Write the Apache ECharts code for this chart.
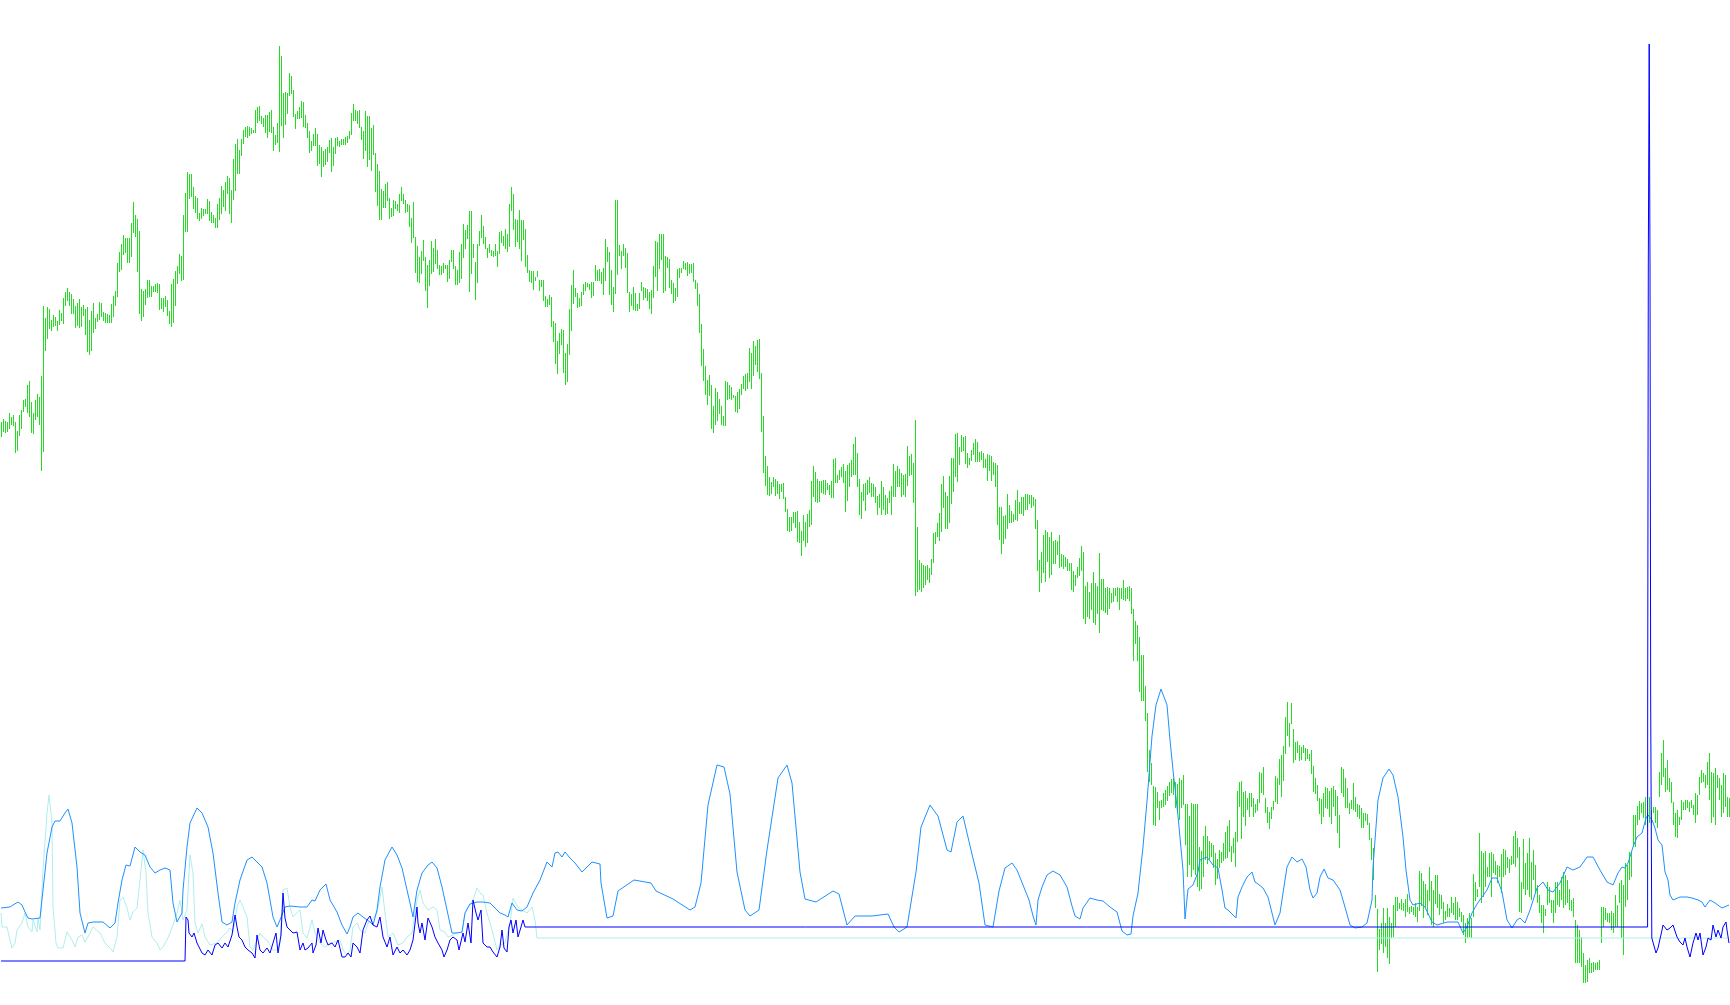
<!DOCTYPE html>
<html>
<head>
<meta charset="utf-8">
<script src="https://cdn.jsdelivr.net/npm/echarts/dist/echarts.min.js"></script>
<style>
html,body{margin:0;padding:0;background:#ffffff;}
#chart{width:1730px;height:1005px;}
</style>
</head>
<body>
<div id="chart"></div>
<script>
// Price bars: one entry per bar (bar index 0..864), high and low values
const barHighs = [
578,581,579,578,587,583,585,578,569,585,
590,600,601,615,619,598,587,600,606,603,
624,694,682,693,691,680,685,683,679,690,
687,702,708,712,708,706,701,694,697,701,
693,695,691,693,680,689,697,682,686,698,
697,688,687,686,685,696,704,709,737,748,
756,765,762,762,762,777,798,785,781,769,
711,709,711,720,720,714,714,716,717,716,
702,702,704,700,689,716,721,729,734,746,
744,785,807,828,826,826,813,804,802,787,
792,791,791,801,799,788,785,782,796,802,
814,810,818,824,822,810,841,856,861,850,
861,870,873,874,873,872,870,890,893,894,
884,882,885,885,888,890,873,865,877,954,
944,907,908,907,927,924,910,886,889,893,
899,898,885,877,869,859,866,872,866,855,
853,849,851,853,860,862,853,862,863,859,
861,861,863,864,869,887,896,890,889,890,
873,869,889,884,884,872,875,847,836,829,
811,809,816,818,802,792,800,799,796,806,
813,806,800,796,795,782,798,763,754,743,
749,760,743,735,740,759,752,761,750,735,
734,737,735,735,740,750,750,734,730,748,
756,776,770,775,789,789,756,738,756,769,
785,774,763,752,756,750,749,756,749,768,
769,764,771,766,796,813,806,781,780,790,
780,780,771,745,730,729,729,723,729,720,
720,720,704,701,705,703,679,677,659,667,
671,670,647,656,691,715,730,712,707,702,
708,716,718,717,716,718,718,735,730,731,
728,732,761,753,748,730,713,800,800,755,
749,756,752,747,708,706,713,707,696,707,
718,713,712,711,708,710,734,759,758,766,
766,766,744,743,741,720,717,712,731,732,
732,739,737,738,736,736,737,720,717,706,
676,651,634,620,625,615,594,612,608,601,
594,584,619,618,615,613,605,604,608,611,
616,624,626,627,652,647,659,654,660,661,
627,584,544,534,523,518,523,521,519,516,
516,517,503,491,483,483,488,488,489,478,
469,485,478,486,490,519,534,528,521,519,
519,520,520,517,515,519,541,542,525,530,
533,536,529,535,537,540,556,563,547,521,
508,516,517,520,523,517,516,513,504,506,
519,513,505,502,509,514,536,529,534,531,
527,525,526,554,544,546,537,580,473,440,
437,435,434,435,432,441,467,468,477,487,
516,524,508,504,524,542,542,566,567,553,
565,563,564,547,542,550,557,561,558,548,
549,547,541,546,545,544,538,537,535,493,
493,484,485,506,495,489,486,500,510,498,
503,503,506,506,505,505,503,501,480,440,
448,465,470,468,463,468,459,460,459,465,
446,445,443,441,437,437,429,425,433,442,
454,448,414,418,408,417,428,417,414,447,
421,421,412,413,412,407,412,412,413,412,
412,420,412,413,414,412,391,379,375,363,
345,345,314,287,250,237,214,213,208,199,
200,207,210,214,218,221,222,218,216,222,
220,225,196,196,184,197,196,196,196,153,
149,164,174,164,159,157,155,147,141,150,
148,157,168,174,180,154,162,168,209,218,
219,208,209,202,207,207,202,196,201,228,
227,233,202,193,188,193,199,224,222,241,
245,254,283,298,277,297,271,258,259,255,
253,255,252,251,246,250,234,222,215,202,
201,207,213,212,209,212,214,210,204,185,
233,231,222,212,197,200,217,203,196,195,
192,187,187,186,177,162,152,105,91,71,
77,92,77,92,83,77,95,103,103,97,
101,97,101,106,93,94,93,97,93,129,
127,119,116,110,133,119,110,125,125,106,
105,98,89,96,92,103,97,103,98,92,
88,85,77,82,87,82,126,118,111,167,
149,147,149,133,147,148,146,139,135,134,
146,151,150,143,141,144,164,169,162,153,
118,161,137,147,162,138,150,135,115,105,
95,95,91,118,113,100,100,118,118,110,
123,128,125,120,111,100,102,80,75,70,
63,47,35,40,42,37,38,37,38,40,
93,93,92,87,87,89,87,105,95,117,
120,115,137,135,148,148,185,185,194,199,
197,198,203,187,203,190,193,193,190,228,
247,260,232,240,222,218,198,187,190,183,
200,198,200,200,198,200,195,207,205,223,
230,227,225,238,247,228,227,232,225,222,
215,227,225,203,202
];
const barLows = [
563,568,567,568,571,575,574,547,549,564,
571,588,593,587,583,567,566,580,583,575,
529,548,649,661,671,669,673,674,669,675,
679,676,694,699,694,686,686,672,674,672,
673,684,665,648,645,649,667,671,678,680,
683,679,677,677,677,677,683,694,703,728,
730,745,747,737,737,743,767,763,728,686,
679,683,695,702,703,703,708,708,707,690,
691,688,693,684,676,673,677,694,716,726,
719,720,768,768,801,803,791,787,781,779,
781,784,786,786,779,777,777,772,772,780,
786,793,789,806,786,777,800,809,826,826,
844,856,863,862,864,866,867,867,877,879,
876,873,867,862,868,867,849,855,857,848,
874,862,875,886,904,906,883,871,881,881,
882,873,872,862,847,849,854,854,834,836,
823,833,835,838,847,828,834,846,854,853,
855,855,855,857,861,865,879,879,876,872,
860,841,849,833,840,829,845,808,794,780,
780,792,792,799,781,783,784,791,789,787,
799,796,787,788,773,757,762,727,718,717,
726,739,709,692,714,726,728,736,731,725,
725,727,731,718,721,738,731,715,715,717,
721,742,751,761,708,726,742,700,717,754,
762,756,751,742,747,744,743,744,733,746,
757,754,751,748,753,789,770,753,758,751,
739,760,733,727,718,717,710,719,723,709,
713,699,693,693,695,673,658,636,626,646,
655,627,615,618,645,669,696,703,692,693,
694,705,709,713,710,702,704,719,719,719,
716,705,719,738,705,695,688,706,725,744,
731,744,732,707,688,694,690,689,689,691,
709,700,702,699,691,686,702,723,709,731,
740,707,709,732,712,706,697,699,703,722,
727,731,730,724,726,727,718,711,694,667,
634,619,605,595,604,571,567,575,579,586,
575,574,574,600,601,600,602,588,587,591,
605,611,609,611,618,611,624,635,628,621,
568,527,514,505,504,506,513,504,506,501,
508,501,488,469,468,469,477,472,458,457,
444,459,453,457,473,475,503,498,497,498,
507,506,505,510,505,502,502,517,517,520,
523,517,488,499,513,523,525,525,513,485,
481,499,489,505,507,503,503,497,485,492,
485,490,485,486,497,485,503,503,513,513,
503,505,503,514,524,525,497,404,408,410,
408,412,415,420,417,425,437,456,463,459,
468,492,471,471,477,496,508,523,518,535,
548,549,536,532,535,539,545,538,538,538,
540,532,532,519,529,519,525,513,475,460,
446,456,461,471,477,477,478,480,479,486,
486,484,490,490,496,492,494,471,429,408,
417,427,418,438,422,425,436,436,445,432,
433,431,433,429,429,410,408,414,422,424,
429,381,376,383,381,390,377,375,386,367,
390,389,387,385,391,397,398,404,398,390,
401,400,399,401,399,386,339,356,339,308,
299,299,279,228,218,215,175,174,192,180,
192,193,195,199,204,207,205,192,188,180,
192,195,155,123,135,123,130,125,113,109,
111,123,140,136,140,143,132,115,121,132,
137,139,141,142,148,138,147,133,158,193,
161,183,174,190,183,193,183,187,189,197,
207,205,187,177,171,181,190,198,196,215,
203,219,246,264,253,276,237,240,247,239,
240,247,239,241,239,226,208,206,199,186,
176,183,192,191,183,176,193,184,167,152,
207,203,192,192,186,191,190,188,183,181,
172,172,179,175,160,140,120,92,28,50,
56,47,53,42,36,62,63,73,89,91,
90,89,83,88,86,88,85,83,78,89,
94,82,93,85,99,75,73,96,92,85,
91,77,80,83,83,87,85,80,80,83,
78,65,57,62,63,62,83,99,103,113,
97,103,113,123,123,103,127,125,117,123,
107,123,125,132,127,135,136,133,142,88,
87,111,105,110,103,100,120,107,97,87,
77,67,84,95,97,87,77,87,95,93,
100,92,95,97,90,89,83,37,37,37,
33,17,17,18,27,27,28,30,30,30,
57,73,80,78,77,70,67,73,73,97,
62,45,93,100,120,123,153,153,175,180,
187,182,175,173,177,177,187,177,172,203,
215,223,208,210,208,197,175,163,162,175,
180,190,190,192,188,192,185,177,185,205,
217,218,212,215,200,177,183,175,212,200,
183,187,193,183,183
];

// Indicator lines: [bar index, value]
const cyanLine = [
[0,87],[0.5,73],[3,73],[4.5,60],[5.5,52],[7,57],[8,70],[10.5,77],[12,87],[13.5,73],[15.5,68],[16,80],[18,68],[18.5,82],[19.5,70],
[21,130],[23,187],[24,205],[25.5,177],[26,93],[27.5,57],[28.5,52],[31,52],[33,68],[34,70],[35.5,60],[37,53],[38.5,63],[40.5,65],
[42,58],[43.5,63],[46,73],[49.5,67],[52,57],[54.5,52],[56,48],[58,63],[59.5,100],[61,103],[63,92],[64.5,80],[66,88],[68,92],
[69.5,120],[71,150],[72.5,127],[73.5,87],[75.5,63],[78,57],[79.5,50],[81,53],[83,60],[84.5,67],[86,75],[88,87],[89.5,100],
[91,80],[93,90],[94.5,145],[96,127],[97,77],[98.5,67],[100.5,76],[102,63],[104.5,55],[108,57],[110.5,63],[113,68],[114.5,72],
[116,68],[118,93],[119.5,100],[121,93],[123,83],[124.5,53],[126,50],[128,60],[129.5,67],[131,63],[133,60],[134.5,55],[136,50],
[138,50],[139.5,57],[141,110],[143,112],[144.5,93],[146,83],[148,87],[149.5,90],[151,67],[153,62],[155.5,80],[157,67],[159.5,57],
[162,53],[164.5,57],[167,58],[169.5,60],[171,50],[173,45],[174.5,50],[176,73],[178,77],[179.5,70],[182,67],[183.5,77],[185.5,80],
[188,87],[190.5,113],[192,87],[193.5,63],[196,67],[198.5,55],[201,57],[203,63],[205.5,67],[208,100],[209.5,110],[211,97],
[213.5,90],[216,93],[218,90],[219.5,70],[222,68],[223.5,63],[226,65],[228,68],[230.5,67],[232,87],[233.5,93],[236,100],
[238,112],[239.5,107],[241,105],[243,87],[245.5,70],[248,50],[249.5,55],[252,57],[254.5,77],[256,102],[258.5,93],[260.5,90],
[263,87],[265.5,93],[267,80],[268,62],[864,62]
];
const dodgerLine = [
[0,92],[4.5,93],[6,95],[8.5,98],[10.5,95],[12,88],[13.5,82],[15.5,81],[19.5,82],[21,110],[23,147],[25.5,173],[27,179],[29.5,179],
[32,187],[33.5,191],[35.5,177],[38,133],[39.5,87],[42,67],[43.5,77],[46,78],[51,78],[54.5,72],[57,77],[58.5,97],[60.5,120],
[62.5,135],[64.5,134],[67,153],[69.5,148],[72,145],[74.5,133],[77,127],[79.5,130],[82,132],[84.5,130],[86,97],[88,78],[90.5,87],
[91,110],[93,153],[94.5,177],[98,192],[100.5,187],[103.5,173],[106,147],[108.5,107],[110.5,78],[113,75],[115.5,78],[117,97],
[119.5,120],[123,140],[125.5,143],[128,138],[130.5,133],[133,117],[134.5,100],[136,83],[138,73],[139.5,80],[142,93],[144.5,94],
[149.5,93],[153,93],[155.5,100],[157,99],[159.5,110],[162.5,116],[164.5,100],[168,88],[170.5,75],[173,66],[174.5,73],[176,83],
[178.5,87],[181,83],[184.5,78],[186,75],[188,90],[189.5,113],[192,140],[195.5,153],[198,145],[200.5,132],[203,110],[204.5,97],
[206,83],[208,110],[210.5,127],[213.5,135],[215.5,138],[218,132],[220.5,113],[223,90],[225.5,67],[228,67],[230.5,68],[232,87],
[234.5,96],[238,98],[241,98],[244.5,97],[247,92],[249.5,87],[252,85],[253.5,83],[255.5,97],[258,90],[260.5,89],[263,93],
[266,107],[269.5,120],[273,138],[275.5,133],[277,147],[278.5,148],[280.5,143],[282,148],[284.5,142],[287,137],[290.5,128],
[293,133],[295.5,138],[299.5,136],[300,117],[303,82],[306,84],[308.5,109],[316.5,120],[325,117],[327.5,109],[336,101],
[344.5,90],[347,93],[350,117],[353.5,195],[358,235],[361.5,233],[364.5,206],[368,128],[372,90],[374.5,84],[379,90],[383,150],
[388.5,222],[393,235],[395.5,217],[399.5,128],[402,101],[407.5,98],[416,109],[419,106],[423,75],[427,84],[435.5,84],[443.5,86],
[446.5,73],[449,68],[453,73],[457.5,128],[460,173],[464.5,195],[468.5,184],[473,150],[475,148],[478,178],[481,184],[485,150],
[489,117],[492,75],[496,73],[499,109],[502,132],[505.5,137],[508,130],[511,115],[514,100],[516,84],[517.5,75],[518.5,100],
[520.5,113],[523,125],[526,129],[529.5,125],[533,113],[535.5,94],[537,84],[539.5,81],[541,92],[544.5,102],[548,100],[551,99],
[554.5,93],[558,88],[560.5,69],[563,65],[565,66],[566,84],[568.5,107],[571,153],[573,199],[575.5,264],[577.5,295],[580,311],
[583,295],[584.5,260],[586,230],[588.5,184],[591,130],[592,81],[593.5,111],[596,115],[598.5,128],[599.5,140],[603,143],
[606,135],[608.5,132],[610.5,110],[612,92],[613.5,90],[616,85],[617.5,82],[618.5,103],[620.5,113],[623,123],[625.5,128],
[627,118],[628.5,116],[631,112],[633.5,103],[635.5,87],[637,75],[639.5,87],[641,107],[643,133],[645.5,143],[648,138],
[650.5,141],[652.5,133],[654.5,110],[656,102],[658,107],[659.5,123],[661.5,131],[663.5,122],[666,120],[669.5,110],[672,93],
[674.5,75],[677,72],[680.5,73],[683,77],[685.5,100],[686,133],[688.5,200],[691,222],[694,231],[696,225],[698.5,203],[701,163],
[702.5,130],[704.5,100],[706,95],[709.5,97],[712,93],[715.5,78],[718,75],[723,78],[728.5,78],[731,67],[733,73],[735.5,87],
[738,96],[740.5,103],[743,110],[745.5,122],[748,122],[750.5,108],[753,80],[755.5,72],[758,80],[759.5,82],[762,77],[764.5,90],
[768,112],[771,118],[773.5,110],[776,108],[779.5,117],[783,133],[786,130],[789.5,133],[793,143],[796,143],[799.5,130],[803,118],
[806,115],[808.5,127],[810.5,133],[812,132],[813.5,137],[816,153],[818,163],[820.5,167],[822.5,182],[823.5,185],[825.5,180],
[827,172],[828.5,160],[830.5,155],[832,128],[833.5,120],[834.5,105],[836,100],[839.5,103],[843,103],[845.5,102],[848.5,100],
[850.5,98],[852,93],[854.5,100],[857,97],[860.5,92],[864,95]
];
const blueLine = [
[0,39],[92,39],[92.5,83],[93.5,80],[94,67],[95.5,63],[96.5,67],[98,57],[99,55],[100.5,47],[102,45],[103.5,50],[105.5,45],[107,55],
[108.5,57],[110.5,52],[112,57],[113.5,53],[115.5,65],[117,85],[118,73],[119,63],[120.5,60],[122,53],[123.5,50],[125.5,47],[127,42],
[128,65],[129.5,50],[131,47],[133,52],[134.5,47],[136,57],[137.5,67],[138.5,47],[140,65],[141,107],[142,82],[143,73],[144.5,70],
[146,67],[148,68],[149.5,50],[151,57],[152,50],[153.5,52],[155.5,57],[156,47],[157.5,55],[158.5,72],[160,57],[161,70],[162.5,60],
[163.5,55],[165.5,57],[167,53],[168.5,60],[170.5,43],[172,43],[173.5,47],[175,43],[176,57],[178,53],[179.5,47],[181,70],[183,80],
[184.5,84],[186,75],[188,73],[189.5,83],[191,63],[193,53],[194.5,63],[196,45],[198,53],[199.5,47],[201,50],[203,45],[204.5,50],
[206,60],[208,93],[208.5,77],[209.5,67],[210.5,77],[212,60],[213.5,82],[215.5,73],[217,63],[218.5,57],[220.5,50],[221.5,43],
[223,50],[224.5,60],[226,63],[228,60],[229,50],[231,67],[232,58],[233.5,77],[235,57],[236,100],[237.5,87],[238.5,80],[240,90],
[241,57],[243,53],[244.5,53],[246,48],[248,43],[249.5,53],[250.5,70],[251.5,52],[253,48],[254,73],[255,80],[256,67],[257.5,80],
[258.5,63],[260,73],[261,80],[262,73],[823.3,73],[823.35,294],[823.65,294],[823.65,735],[824.1,735],[824.1,956],[824.5,956],
[824.5,735],[824.85,735],[824.85,294],[825.35,294],[825.4,62],[827.5,47],
[828.5,52],[829.5,53],[830.5,70],[831,75],[833,70],[834.5,72],[836,75],[838,63],[839.5,58],[841,55],[842,62],[843,53],[844.5,43],
[846,57],[847.5,67],[848.5,60],[849.5,67],[851,45],[852.5,53],[853.5,62],[855,60],[856,75],[857.5,63],[858.5,70],[860,62],
[861,73],[862.5,78],[863,70],[864,57]
];

const COLORS = { bars: '#22dd22', cyan: '#afeeee', dodger: '#1e90ff', blue: '#0000ff' };

const barData = barHighs.map((h, i) => [i, barLows[i], h]);

const chart = echarts.init(document.getElementById('chart'), null, { renderer: 'canvas' });
chart.setOption({
  animation: false,
  backgroundColor: '#ffffff',
  grid: { left: 0, right: 0, top: 0, bottom: 0, containLabel: false },
  xAxis: { type: 'value', min: -0.5, max: 864.5, show: false },
  yAxis: { type: 'value', min: -5, max: 1000, show: false },
  series: [
    {
      type: 'custom',
      data: barData,
      encode: { x: 0, y: [1, 2] },
      renderItem: function (params, api) {
        const lo = api.coord([api.value(0), api.value(1)]);
        const hi = api.coord([api.value(0), api.value(2)]);
        const top = Math.round(hi[1]);
        const bot = Math.round(lo[1]);
        return {
          type: 'rect',
          shape: { x: Math.floor(lo[0]), y: top, width: 1, height: Math.max(1, bot - top) },
          style: { fill: COLORS.bars }
        };
      },
      z: 1
    },
    { type: 'line', data: cyanLine, showSymbol: false, symbol: 'none', sampling: 'none', lineStyle: { color: COLORS.cyan, width: 1 }, z: 2 },
    { type: 'line', data: dodgerLine, showSymbol: false, symbol: 'none', sampling: 'none', lineStyle: { color: COLORS.dodger, width: 1 }, z: 3 },
    { type: 'line', data: blueLine, showSymbol: false, symbol: 'none', sampling: 'none', lineStyle: { color: COLORS.blue, width: 1 }, z: 4 }
  ]
});
</script>
</body>
</html>
